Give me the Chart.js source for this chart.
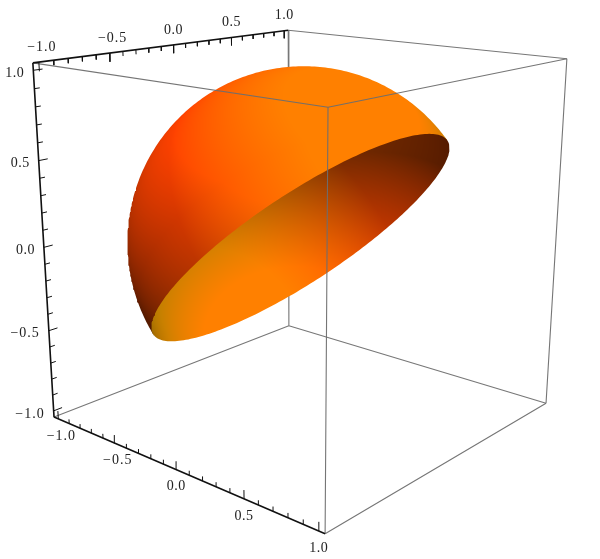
<!DOCTYPE html>
<html><head><meta charset="utf-8">
<style>html,body{margin:0;padding:0;background:#fff}canvas{display:block}</style>
<script src="https://cdn.jsdelivr.net/npm/chart.js@4"></script>
</head><body><canvas id="c" width="600" height="559"></canvas>
<script>
// Tick values on the three box axes
const majorTicks = [-1.0, -0.5, 0.0, 0.5, 1.0];
const minorTicks = [-0.9,-0.8,-0.7,-0.6,-0.4,-0.3,-0.2,-0.1,0.1,0.2,0.3,0.4,0.6,0.7,0.8,0.9];
const tickLabels = ['\u22121.0','\u22120.5','0.0','0.5','1.0'];

// Box half-width (the range plus its padding) and where each corner falls on the picture
const boxHalf = 1.04;
const boxCorners = [[-1,-1,1],[1,-1,1],[-1,1,1],[1,1,1],[-1,-1,-1],[1,-1,-1],[-1,1,-1],[1,1,-1]];
const cornerX = [33,288,328,567,54,289,325,546];
const cornerY = [63,30,107,59,417,326,534,403];

// The surface: a sphere of this radius, kept where dot(p, cutNormal) < 0
const sphereRadius = 1;
const cutNormal = [0, Math.SQRT1_2, -Math.SQRT1_2];
// Surface colour and lights (ambient, then directional, in image coordinates)
const surfaceColor = [1, 0.5, 0];
const ambientLight = [0.312, 0.188];
const lightColors = [[0.8,0.38],[0.25,0.8],[0.25,0.25]];
const lightDirs = [[-0.25,0.8,0.5],[0.62,0.45,0.45],[0.3,-0.6,0.35]];

const dot=(p,q)=>p[0]*q[0]+p[1]*q[1]+p[2]*q[2];
const add=(p,q,k)=>[p[0]+k*q[0],p[1]+k*q[1],p[2]+k*q[2]];
const unit=p=>{const l=Math.hypot(...p);return p.map(v=>v/l);};
const cross=(p,q)=>[p[1]*q[2]-p[2]*q[1],p[2]*q[0]-p[0]*q[2],p[0]*q[1]-p[1]*q[0]];

// --- projection fitted to the box corners ---
function fitProjection(){
  const A=[],B=[];
  boxCorners.forEach((p,i)=>{
    const [a,b,z]=p.map(v=>v*boxHalf),u=cornerX[i],v=cornerY[i];
    A.push([a,b,z,1,0,0,0,0,-u*a,-u*b,-u*z]);B.push(u);
    A.push([0,0,0,0,a,b,z,1,-v*a,-v*b,-v*z]);B.push(v);
  });
  const n=11,M=[];
  for(let i=0;i<n;i++){M.push([]);for(let j=0;j<=n;j++){let s=0;
    for(let k=0;k<A.length;k++)s+=A[k][i]*(j<n?A[k][j]:B[k]);M[i].push(s);}}
  for(let i=0;i<n;i++){let p=i;for(let r=i+1;r<n;r++)if(Math.abs(M[r][i])>Math.abs(M[p][i]))p=r;
    [M[i],M[p]]=[M[p],M[i]];
    for(let r=0;r<n;r++)if(r!==i){const f=M[r][i]/M[i][i];for(let j=i;j<=n;j++)M[r][j]-=f*M[i][j];}}
  return M.map((r,i)=>r[n]/r[i]);
}
const P=fitProjection();
function proj(a,b,z){const w=P[8]*a+P[9]*b+P[10]*z+1;
  return {x:(P[0]*a+P[1]*b+P[2]*z+P[3])/w,y:(P[4]*a+P[5]*b+P[6]*z+P[7])/w};}

// inverse of the left 3x3 of the projection, and the camera position
const M3=[[P[0],P[1],P[2]],[P[4],P[5],P[6]],[P[8],P[9],P[10]]];
const det=dot(M3[0],cross(M3[1],M3[2]));
const c0=cross(M3[1],M3[2]).map(v=>v/det),c1=cross(M3[2],M3[0]).map(v=>v/det),c2=cross(M3[0],M3[1]).map(v=>v/det);
const invApply=v=>[c0[0]*v[0]+c1[0]*v[1]+c2[0]*v[2],c0[1]*v[0]+c1[1]*v[1]+c2[1]*v[2],c0[2]*v[0]+c1[2]*v[1]+c2[2]*v[2]];
const cam=invApply([-P[3],-P[7],-1]);

// image frame: toward viewer, up, right
const toward=unit(cam);
const upV=unit(add([0,0,1],toward,-toward[2]));
let rightV=cross(upV,toward);
{const q=proj(rightV[0]*.01,rightV[1]*.01,rightV[2]*.01),o=proj(0,0,0);if(q.x<o.x)rightV=rightV.map(v=>-v);}
const lights3=lightDirs.map(l=>[0,1,2].map(i=>l[0]*rightV[i]+l[1]*upV[i]+l[2]*toward[i]));

function shadeCanvas(far){
  const W=600,H=559,cv=document.createElement('canvas');cv.width=W;cv.height=H;
  const g=cv.getContext('2d'),img=g.createImageData(W,H),d=img.data;
  const cc=dot(cam,cam)-sphereRadius*sphereRadius;
  for(let y=0;y<H;y++)for(let x=0;x<W;x++){
    let D=invApply([x+.5,y+.5,1]);
    if(dot(D,cam)>0)D=D.map(v=>-v);
    const A=dot(D,D),B=dot(D,cam);
    const disc=Math.max(0,B*B-A*cc),s=Math.sqrt(disc);
    const t=far?(-B+s)/A:(-B-s)/A;
    let n=unit(add(cam,D,t));if(far)n=n.map(v=>-v);
    let R=ambientLight[0],G=ambientLight[1];
    lights3.forEach((L,i)=>{const k=Math.max(0,dot(n,L));R+=lightColors[i][0]*k;G+=lightColors[i][1]*k;});
    const o=(y*W+x)*4;
    d[o]=255*Math.min(1,R)*surfaceColor[0];d[o+1]=255*Math.min(1,G)*surfaceColor[1];d[o+2]=0;d[o+3]=255;
  }
  g.putImageData(img,0,0);return cv;
}
const outerCanvas=shadeCanvas(false),innerCanvas=shadeCanvas(true);
const patternOf=cv=>c=>c.chart.ctx.createPattern(cv,'no-repeat');

// --- outlines of the surface, from its 3D definition ---
const nn=unit(cutNormal);
const e1r=[1,0,0],e2r=unit(cross(nn,e1r));
const rimOutline=[];
for(let k=0;k<=240;k++){const t=k/240*2*Math.PI;
  const p=add(e1r.map(v=>v*Math.cos(t)*sphereRadius),e2r,Math.sin(t)*sphereRadius);
  rimOutline.push(proj(p[0],p[1],p[2]));}
const silCenter=cam.map(v=>v*sphereRadius*sphereRadius/dot(cam,cam));
const silRad=Math.sqrt(sphereRadius*sphereRadius-dot(silCenter,silCenter));
const nPerp=add(nn,toward,-dot(nn,toward));
const e1s=unit(nPerp).map(v=>-v),e2s=unit(cross(toward,e1s));
const Tmax=Math.acos(Math.max(-1,Math.min(1,dot(nn,silCenter)/(silRad*Math.hypot(...nPerp)))));
const silOutline=[];
for(let k=0;k<=200;k++){const t=-Tmax+2*Tmax*k/200;
  const p=add(add(silCenter,e1s,silRad*Math.cos(t)),e2s,silRad*Math.sin(t));
  silOutline.push(proj(p[0],p[1],p[2]));}

const h=boxHalf;
const seg=(list)=>{const out=[];list.forEach(([p,q])=>{out.push(proj(...p),proj(...q),{x:null,y:null});});return out;};
const corner=(a,b,z)=>[a*h,b*h,z*h];
const backEdges=seg([[corner(1,-1,1),corner(1,1,1)],[corner(1,-1,1),corner(1,-1,-1)],[corner(1,-1,-1),corner(-1,-1,-1)],[corner(1,-1,-1),corner(1,1,-1)]]);
const frontEdges=seg([[corner(-1,-1,1),corner(-1,1,1)],[corner(-1,1,1),corner(1,1,1)],[corner(-1,1,1),corner(-1,1,-1)],[corner(1,1,1),corner(1,1,-1)],[corner(-1,1,-1),corner(1,1,-1)]]);
const axisEdges=seg([[corner(-1,-1,1),corner(1,-1,1)],[corner(-1,-1,1),corner(-1,-1,-1)],[corner(-1,-1,-1),corner(-1,1,-1)]]);
function tickSegs(vals,lenZ,lenA){const l=[];vals.forEach(v=>{
  l.push([[v,-h,h],[v,-h,h-lenZ]]);
  l.push([[-h,-h,v],[-h+lenA,-h,v]]);
  l.push([[-h,v,-h],[-h,v,-h+lenZ]]);});return seg(l);}
const majorSegs=tickSegs(majorTicks,0.05,0.062);
const minorSegs=tickSegs(minorTicks,0.027,0.036);

const surf=(data,bg)=>({data,fill:'shape',backgroundColor:bg,borderWidth:0,borderColor:'transparent',tension:0,pointRadius:0,showLine:true});
const line=(data,color,w)=>({data,borderColor:color,borderWidth:w,pointRadius:0,showLine:true,spanGaps:false,fill:false,tension:0});

const painted=[
  line(backEdges,'#777',1.1),
  surf(silOutline,patternOf(outerCanvas)),
  surf(rimOutline,patternOf(innerCanvas)),
  line(frontEdges,'rgba(110,110,110,.95)',1.1),
  line(minorSegs,'#111',1),
  line(majorSegs,'#111',1),
  line(axisEdges,'#111',1.6)
];
painted.forEach((d,i)=>{d.order=painted.length-i;});

const labelsPlugin={id:'boxLabels',afterDatasetsDraw(chart){
  const {ctx,scales:s}=chart;ctx.save();
  ctx.font='14px "Liberation Serif"';ctx.fillStyle='#222';ctx.textBaseline='middle';
  const put=(pt,dx,dy,txt,al)=>{ctx.textAlign=al;
    try{ctx.letterSpacing=txt.length>3?'1px':'0.5px';}catch(e){}
    ctx.fillText(txt,s.x.getPixelForValue(pt.x)+dx,s.y.getPixelForValue(pt.y)+dy);};
  majorTicks.forEach((v,i)=>{
    const neg=v<0?3:0;
    put(proj(v,-h,h),neg,-15,tickLabels[i],'center');
    put(proj(-h,-h,v),-9,3,tickLabels[i],'right');
    put(proj(-h,v,-h),neg,17,tickLabels[i],'center');
  });
  ctx.restore();}};

new Chart(document.getElementById('c'),{
  type:'scatter',
  data:{datasets:painted},
  options:{responsive:false,animation:false,events:[],
    layout:{padding:0},
    plugins:{legend:{display:false},tooltip:{enabled:false},title:{display:false}},
    scales:{x:{type:'linear',min:0,max:600,display:false},y:{type:'linear',min:0,max:559,reverse:true,display:false}}},
  plugins:[labelsPlugin]
});
</script></body></html>
